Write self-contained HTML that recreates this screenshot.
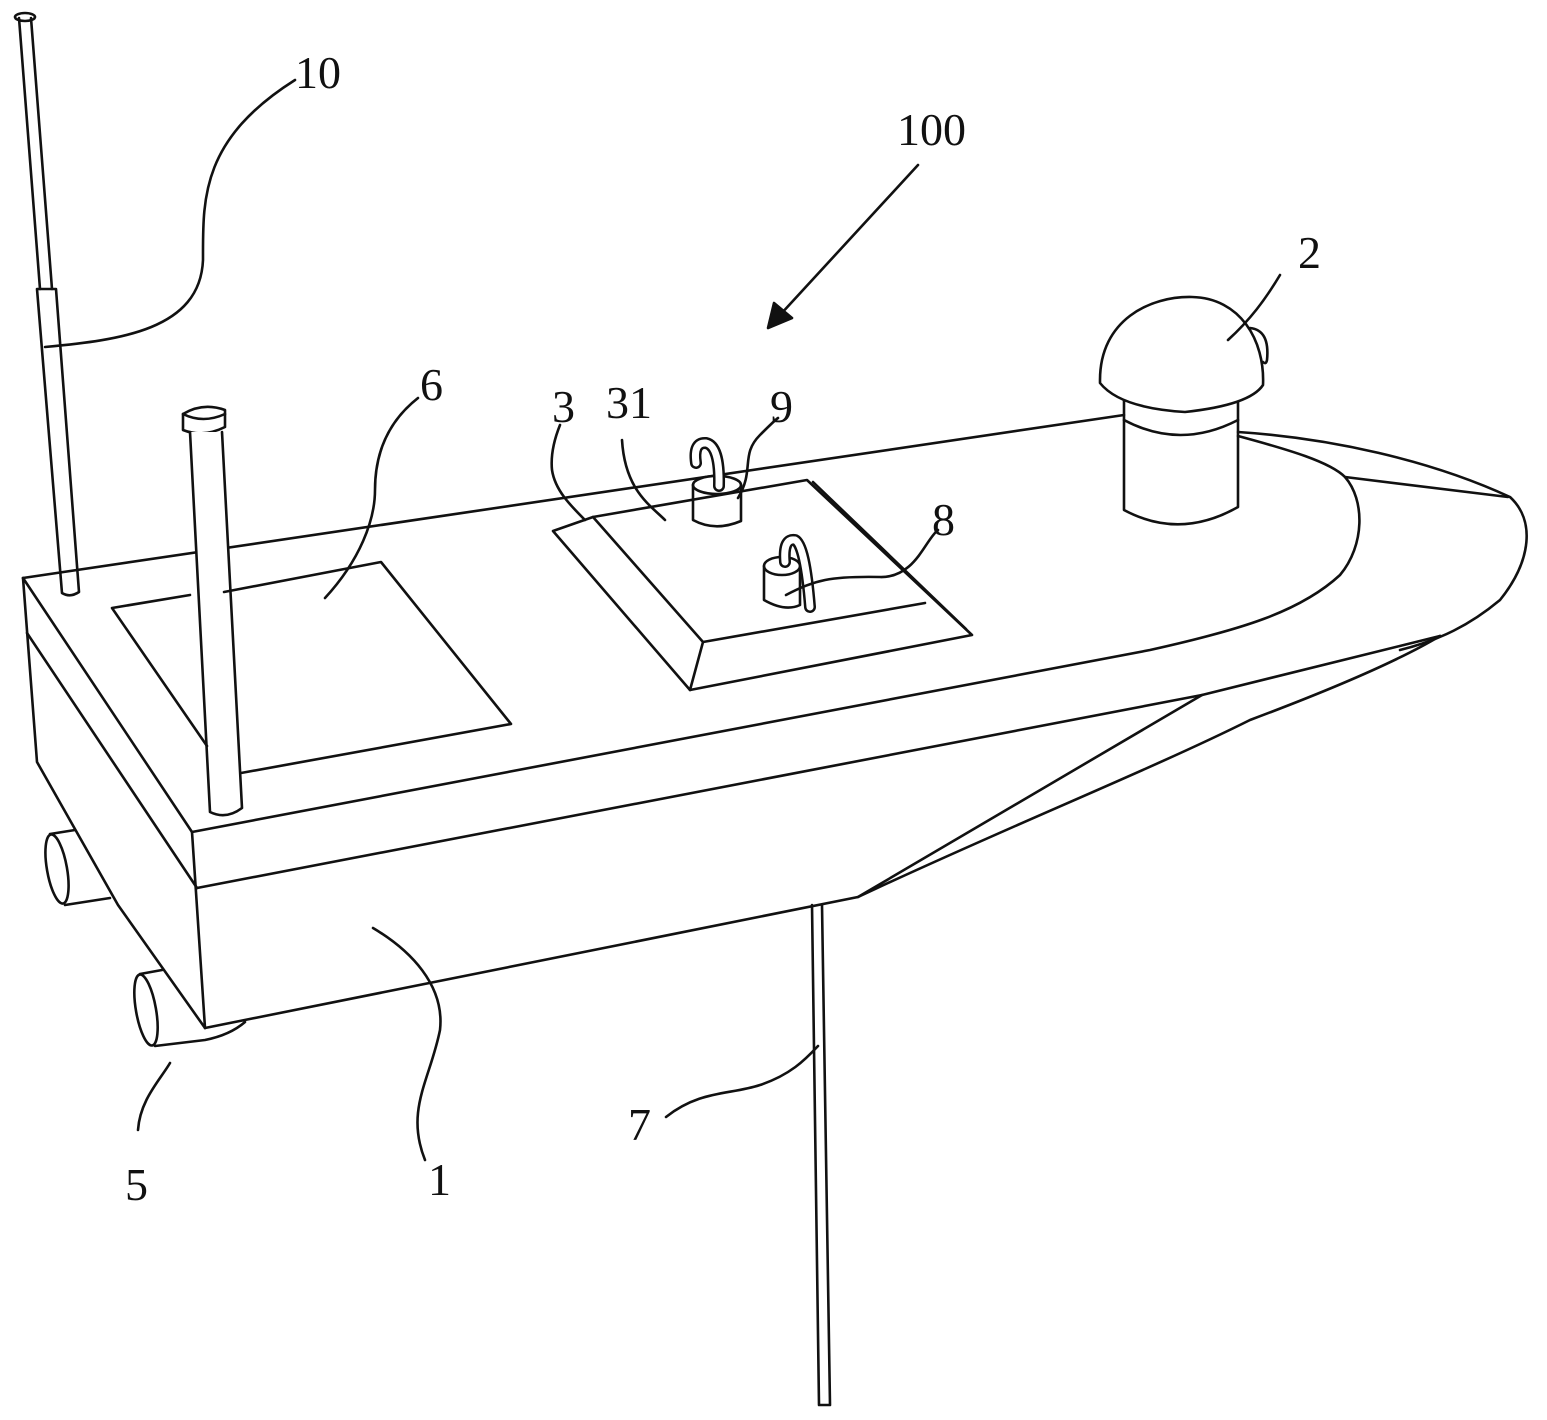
<!DOCTYPE html>
<html><head><meta charset="utf-8"><style>
html,body{margin:0;padding:0;background:#fff;}
svg{display:block}
text{font-family:"Liberation Serif",serif;font-size:46px;fill:#111}
</style></head><body>
<svg width="1547" height="1420" viewBox="0 0 1547 1420" xmlns="http://www.w3.org/2000/svg">
<g fill="none" stroke="#111" stroke-width="2.6" stroke-linejoin="round" stroke-linecap="round">
<!-- antenna 10 -->
<ellipse cx="25" cy="17" rx="10" ry="4"/>
<line x1="19" y1="18" x2="40" y2="289"/><line x1="31" y1="18" x2="52" y2="289"/>
<path d="M37 289 L62 593 Q70 598 79 592 L56 289 Z"/>
<path d="M45 347 C120 340 200 330 203 260 C203 200 200 140 295 80"/>
<!-- 100 arrow -->
<line x1="918" y1="165" x2="780" y2="315"/>
<path d="M768 328 L774 303 L792 318 Z" fill="#111"/>
<!-- deck top back edge -->
<path d="M23 578 L1124 415"/>
<!-- deck outer bow outline -->
<path d="M1238 432 C1330 438 1430 460 1510 497 C1535 520 1532 560 1500 600 C1470 625 1440 640 1400 650"/>
<!-- inner sheer curve -->
<path d="M1238 436 C1290 450 1330 462 1345 477 C1365 500 1365 545 1340 575 C1300 612 1240 630 1150 650 L192 832"/>
<line x1="1345" y1="477" x2="1508" y2="497"/>
<!-- left block -->
<line x1="23" y1="578" x2="192" y2="832"/>
<line x1="27" y1="633" x2="197" y2="888"/>
<path d="M23 578 L37 762 L118 905 L205 1028"/>
<line x1="192" y1="832" x2="205" y2="1028"/>
<!-- lower deck line & hull -->
<path d="M197 888 L1202 695 L1440 636"/>
<path d="M205 1028 L858 897 L1202 695"/>
<path d="M858 897 C1000 830 1150 770 1250 720 C1330 690 1400 660 1440 636"/>
<!-- rod 7 -->
<path d="M812 905 L819 1405 L830 1405 L822 905"/>
<path d="M666 1117 C700 1090 730 1095 760 1085 C790 1075 805 1060 818 1046"/>
<!-- exhaust tubes 5 -->
<ellipse cx="57" cy="869" rx="10" ry="35" transform="rotate(-10 57 869)"/>
<line x1="50" y1="834" x2="75" y2="830"/>
<line x1="65" y1="905" x2="110" y2="898"/>
<ellipse cx="146" cy="1010" rx="10" ry="36" transform="rotate(-10 146 1010)"/>
<line x1="140" y1="974" x2="162" y2="970"/>
<path d="M155 1046 L205 1040 Q230 1035 245 1022"/>
<!-- pole -->
<path d="M183 414 Q203 402 225 410 L225 427 Q203 438 183 430 Z"/>
<path d="M183 414 Q203 424 225 414"/>
<path d="M190 432 L210 812 Q226 820 242 808 L222 432" fill="#fff"/>
<!-- hatch 6 -->
<path d="M207 746 L112 608 L190 595 M224 592 L381 562 L511 724 L241 773"/>
<!-- hatch 3 -->
<path d="M553 531 L593 517 L807 480 L972 635 L690 690 Z"/>
<path d="M593 517 L703 642 L925 603"/>
<line x1="703" y1="642" x2="690" y2="690"/>
<line x1="813" y1="482" x2="966" y2="629"/>
<!-- 9 cylinder -->
<path d="M693 485 L693 520 Q715 532 741 521 L741 485"/>
<ellipse cx="717" cy="485" rx="24" ry="9" fill="#fff"/>
<path d="M696 463 Q693 442 706 443 Q720 446 719 486" stroke-width="12"/>
<path d="M696 463 Q693 442 706 443 Q720 446 719 486" stroke="#fff" stroke-width="7"/>
<!-- 8 cylinder -->
<path d="M764 566 L764 600 Q785 612 800 605 L800 566"/>
<ellipse cx="782" cy="566" rx="18" ry="9" fill="#fff"/>
<path d="M785 562 Q783 538 795 540 Q805 545 810 607" stroke-width="12"/>
<path d="M785 562 Q783 538 795 540 Q805 545 810 607" stroke="#fff" stroke-width="7"/>
<!-- dome 2 -->
<path d="M1124 400 L1124 510 Q1180 540 1238 507 L1238 400"/>
<path d="M1124 420 Q1180 450 1238 420"/>
<path d="M1100 380 C1100 320 1150 296 1192 297 C1240 298 1265 340 1263 385 Q1250 405 1185 412 Q1120 408 1100 383 Z" fill="#fff"/>
<path d="M1250 328 Q1270 330 1267 360 Q1266 365 1263 362"/>
<!-- leaders -->
<path d="M1228 340 C1250 320 1265 300 1280 275"/>
<path d="M325 598 C360 560 375 520 375 490 C375 450 390 420 418 398"/>
<path d="M585 520 C570 505 555 490 552 470 C550 450 558 430 560 425"/>
<path d="M665 520 C650 505 625 490 622 440"/>
<path d="M738 498 C755 470 740 455 760 435 C770 425 775 420 778 418"/>
<path d="M786 595 C815 580 830 576 880 577 C915 578 925 540 938 530"/>
<path d="M373 928 C410 950 445 985 440 1030 C430 1080 405 1110 425 1160"/>
<path d="M170 1063 C160 1080 140 1100 138 1130"/>
</g>
<text x="295" y="88">10</text>
<text x="897" y="145">100</text>
<text x="1298" y="268">2</text>
<text x="420" y="400">6</text>
<text x="552" y="422">3</text>
<text x="606" y="418">31</text>
<text x="770" y="422">9</text>
<text x="932" y="535">8</text>
<text x="428" y="1195">1</text>
<text x="125" y="1200">5</text>
<text x="628" y="1140">7</text>
</svg>
</body></html>
